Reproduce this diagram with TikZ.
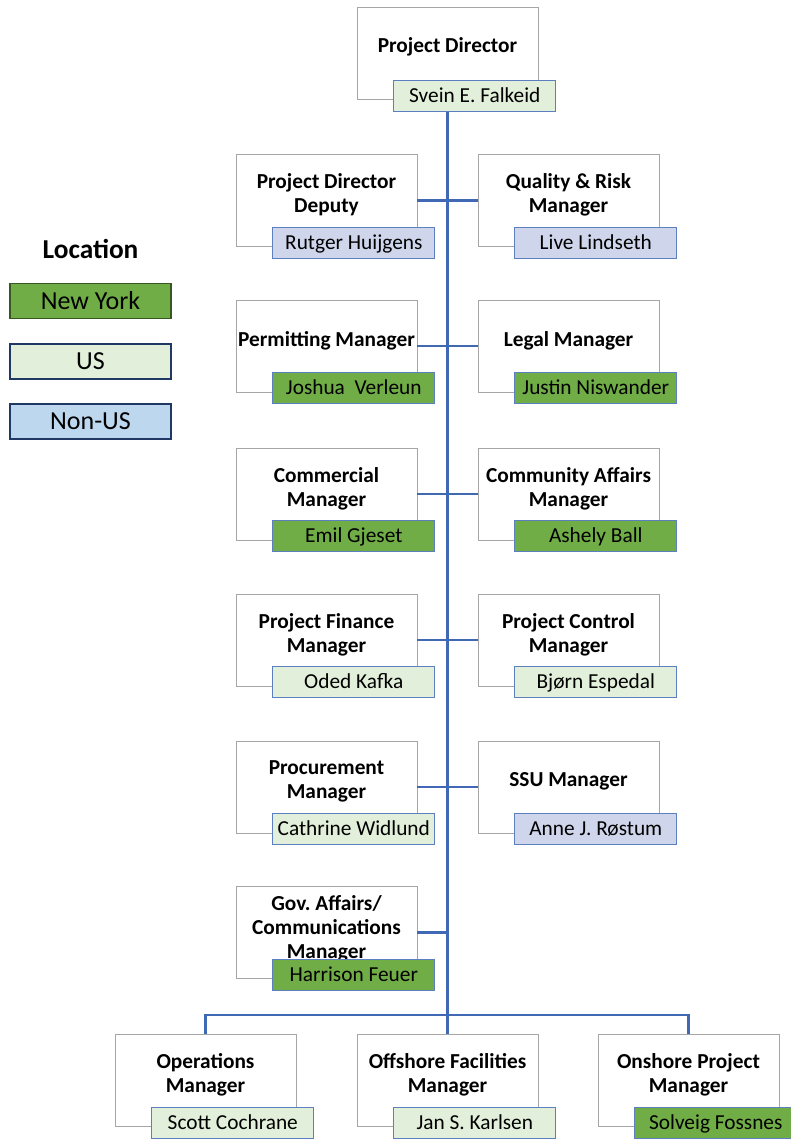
\documentclass[tikz,border=0pt]{standalone}
\usepackage{fontspec}
\setmainfont{Carlito}
\frenchspacing
\usetikzlibrary{positioning}
\definecolor{nygreen}{HTML}{70AD47}
\definecolor{nyedge}{HTML}{385723}
\definecolor{usfill}{HTML}{E2EFDA}
\definecolor{nonusfill}{HTML}{CFD5EA}
\definecolor{nonuskey}{HTML}{BDD7EE}
\definecolor{keyedge}{HTML}{1F3864}
\definecolor{linkblue}{HTML}{3F68B5}
\definecolor{rolegray}{HTML}{A6A6A6}

\tikzset{
  role/.style={draw=rolegray, line width=0.6pt, fill=white, minimum width=135.75pt, minimum height=69pt, inner sep=0pt},
  roletitle/.style={align=center, font=\fontsize{16}{18}\selectfont\bfseries, inner sep=0pt},
  person/.style={draw=linkblue!85, line width=0.9pt, minimum width=121.5pt, minimum height=23.25pt, inner sep=0pt, text height=12.5pt, text depth=2.5pt, font=\fontsize{16}{18}\selectfont, anchor=south east},
  ny/.style={person, fill=nygreen},
  us/.style={person, fill=usfill},
  nonus/.style={person, fill=nonusfill},
  keybox/.style={line width=1.4pt, minimum width=120.75pt, minimum height=26.25pt, inner sep=0pt, text height=15pt, text depth=3pt, font=\fontsize{19.5}{21}\selectfont},
  link/.style={draw=linkblue, line width=2pt}
}

\begin{document}
\begin{tikzpicture}[x=0.75pt, y=-0.75pt]
\useasboundingbox (0,0) rectangle (791,1142);

% Legend
\node[font=\fontsize{20.5}{22}\selectfont\bfseries] (keytitle) at (90.5,249) {Location};
\node[keybox, draw=nyedge, fill=nygreen] (keyny) at (90.5,301) {New York};
\node[keybox, draw=keyedge, fill=usfill] (keyus) at (90.5,361.5) {US};
\node[keybox, draw=keyedge, fill=nonuskey] (keynonus) at (90.5,421.5) {Non-US};

% Top box
\node[role] (pd) at (447.5,53.5) {};
\node[roletitle] (pdt) at ([yshift=5pt]pd.center) {Project Director};

% Spine and bus
\coordinate (bus) at (447.5,1015);
\draw[link] (pd.south) -- (bus);
\node[us] (pdn) at ([xshift=13.5pt,yshift=-9pt]pd.south east) {Svein E. Falkeid};

% Paired rows
\foreach \r/\y/\lt/\ln/\ls/\rt/\rn/\rs in {
  1/200.5/{Project Director\\Deputy}/{Rutger Huijgens}/nonus/{Quality \& Risk\\Manager}/{Live Lindseth}/nonus,
  2/346/{Permitting Manager}/{Joshua\ \ Verleun}/ny/{Legal Manager}/{Justin Niswander}/ny,
  3/494/{Commercial\\Manager}/{Emil Gjeset}/ny/{Community Affairs\\Manager}/{Ashely Ball}/ny,
  4/640/{Project Finance\\Manager}/{Oded Kafka}/us/{Project Control\\Manager}/{Bjørn Espedal}/us,
  5/787/{Procurement\\Manager}/{Cathrine Widlund}/us/{SSU Manager}/{Anne J. Røstum}/nonus} {
  \node[role] (l\r) at (326.5,\y) {};
  \node[role] (r\r) at (568.5,\y) {};
  \draw[link] (l\r.east) -- (r\r.west);
  \node[roletitle] (l\r t) at ([yshift=4pt]l\r.center) {\lt};
  \node[roletitle] (r\r t) at ([yshift=4pt]r\r.center) {\rt};
  \node[\ls] (l\r n) at ([xshift=13.5pt,yshift=-9pt]l\r.south east) {\ln};
  \node[\rs] (r\r n) at ([xshift=13.5pt,yshift=-9pt]r\r.south east) {\rn};
}

% Gov. affairs row (left only)
\node[role] (l6) at (326.5,932.5) {};
\draw[link] (l6.east) -- (l6.east -| bus);
\node[roletitle] (l6t) at ([yshift=3pt]l6.center) {Gov. Affairs/\\Communications\\Manager};
\node[ny] (l6n) at ([xshift=13.5pt,yshift=-9pt]l6.south east) {Harrison Feuer};

% Bottom row
\node[role] (ops) at (205.5,1080.5) {};
\node[role] (off) at (447.5,1080.5) {};
\node[role] (onp) at (688.5,1080.5) {};
\draw[link] (ops.north) |- (bus) -| (onp.north);
\draw[link] (bus) -- (off.north);
\node[roletitle] (opst) at ([yshift=4pt]ops.center) {Operations\\Manager};
\node[roletitle] (offt) at ([yshift=4pt]off.center) {Offshore Facilities\\Manager};
\node[roletitle] (onpt) at ([yshift=4pt]onp.center) {Onshore Project\\Manager};
\node[us] (opsn) at ([xshift=13.5pt,yshift=-9pt]ops.south east) {Scott Cochrane};
\node[us] (offn) at ([xshift=13.5pt,yshift=-9pt]off.south east) {Jan S. Karlsen};
\node[ny] (onpn) at ([xshift=13.5pt,yshift=-9pt]onp.south east) {Solveig Fossnes};

\end{tikzpicture}
\end{document}
